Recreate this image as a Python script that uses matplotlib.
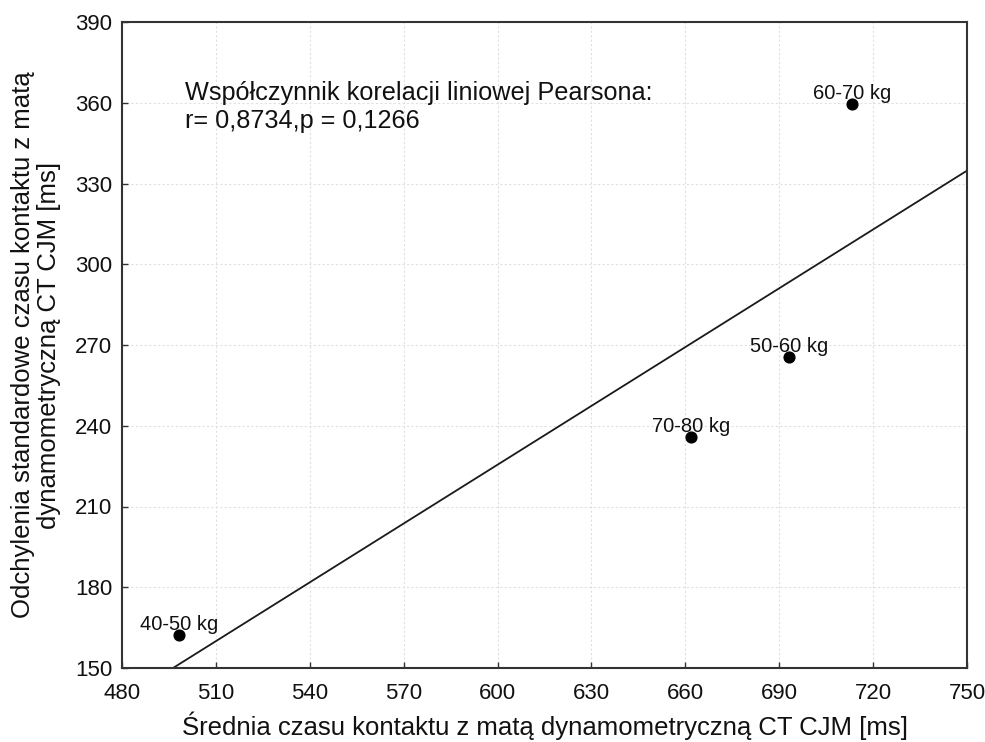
import numpy as np
import matplotlib
matplotlib.use("Agg")
import matplotlib.pyplot as plt

plt.rcParams['font.family'] = ['Liberation Sans', 'DejaVu Sans']

labels = ["40-50 kg", "70-80 kg", "50-60 kg", "60-70 kg"]
x_vals = [498.2, 661.8, 693.1, 713.3]
y_vals = [162.3, 235.8, 265.6, 359.6]
x_ticks = [480, 510, 540, 570, 600, 630, 660, 690, 720, 750]
y_ticks = [150, 180, 210, 240, 270, 300, 330, 360, 390]

fig = plt.figure(figsize=(9.85, 7.42), dpi=100)
ax = fig.add_axes([122/985, 1 - 668/742, (967-122)/985, (668-22)/742])

ax.set_xlim(480, 750)
ax.set_ylim(150, 390)
ax.set_xticks(x_ticks)
ax.set_yticks(y_ticks)
ax.grid(True, color='#e0e0e0', linestyle=(0, (2, 2)), linewidth=0.8)
ax.set_axisbelow(True)

# regression line
coef = np.polyfit(x_vals, y_vals, 1)
xs = np.array([480, 750])
ax.plot(xs, np.polyval(coef, xs), color='#1a1a1a', linewidth=1.3, clip_on=True)

ax.scatter(x_vals, y_vals, s=60, color='black', zorder=3)
for lx, ly, lab in zip(x_vals, y_vals, labels):
    ax.annotate(lab, (lx, ly), xytext=(0, 3.5), textcoords='offset points',
                ha='center', va='baseline', fontsize=14.5, color='#111111')

ax.text(0.0746, 0.909, "Współczynnik korelacji liniowej Pearsona:\nr= 0,8734,p = 0,1266",
        transform=ax.transAxes, fontsize=18.2, va='top', ha='left', color='#111111',
        linespacing=1.2)

for s in ax.spines.values():
    s.set_color('#333333')
    s.set_linewidth(1.5)
ax.tick_params(direction='in', length=4.5, width=1, colors='#333333', labelsize=16,
               labelcolor='#111111')
ax.tick_params(axis='x', pad=11)
ax.tick_params(axis='y', pad=7)

ax.set_xlabel("Średnia czasu kontaktu z matą dynamometryczną CT CJM [ms]", fontsize=18.5,
              color='#111111', labelpad=5)
ax.set_ylabel("Odchylenia standardowe czasu kontaktu z matą\ndynamometryczną CT CJM [ms]",
              fontsize=18.5, color='#111111', labelpad=10, linespacing=1.12)

fig.savefig("out.png", dpi=100)
